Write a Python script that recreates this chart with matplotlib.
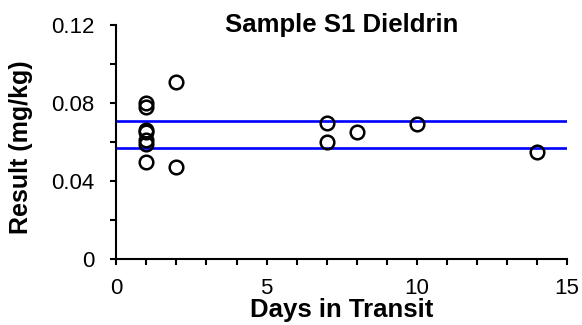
import matplotlib
matplotlib.use("Agg")
import matplotlib.pyplot as plt
from matplotlib.ticker import MultipleLocator, FixedLocator

plt.rcParams['font.family'] = ['Liberation Sans', 'DejaVu Sans']

# Dieldrin results for sample S1 against shipping time
days = [1, 1, 1, 1, 1, 1, 1, 2, 2, 7, 7, 8, 10, 14]
result = [0.080, 0.078, 0.066, 0.065, 0.061, 0.059, 0.050,
          0.091, 0.047, 0.070, 0.060, 0.065, 0.069, 0.055]

# Acceptance limits
limits = [0.071, 0.057]

title = "Sample S1 Dieldrin"
xlabel = "Days in Transit"
ylabel = "Result (mg/kg)"
xticks = [0, 5, 10, 15]
yticks = [0, 0.04, 0.08, 0.12]
ytick_labels = ["0", "0.04", "0.08", "0.12"]

fig = plt.figure(figsize=(5.82, 3.25), dpi=100)
ax = fig.add_axes([0.2, 0.203, 0.774, 0.72])

for lim in limits:
    ax.axhline(lim, color="#0000FF", lw=1.9, zorder=2)

ax.plot(days, result, linestyle="none", marker="o", markersize=9.8,
        markerfacecolor="none", markeredgecolor="black",
        markeredgewidth=1.8, zorder=3, clip_on=False)

ax.set_xlim(0, 15)
ax.set_ylim(0, 0.12)
ax.xaxis.set_major_locator(FixedLocator(xticks))
ax.xaxis.set_minor_locator(MultipleLocator(1))
ax.yaxis.set_major_locator(FixedLocator(yticks))
ax.yaxis.set_minor_locator(MultipleLocator(0.02))
ax.set_yticklabels(ytick_labels)

for side in ("top", "right"):
    ax.spines[side].set_visible(False)
for side in ("left", "bottom"):
    ax.spines[side].set_linewidth(1.5)
    ax.spines[side].set_color("black")

ax.tick_params(which="both", direction="out", length=4, width=1.5,
               colors="black", labelsize=16)
ax.tick_params(axis="y", which="major", pad=12)
ax.tick_params(axis="x", which="major", pad=10)

ax.text(0.5, 1.0, title, transform=ax.transAxes, ha="center", va="center",
        fontsize=18.5, fontweight="bold")
ax.set_xlabel(xlabel, fontsize=18.5, fontweight="bold")
ax.xaxis.set_label_coords(0.5, -0.167)
ax.set_ylabel(ylabel, fontsize=18, fontweight="bold")
ax.yaxis.set_label_coords(-0.185, 0.48)

fig.savefig("out.png", dpi=100)
